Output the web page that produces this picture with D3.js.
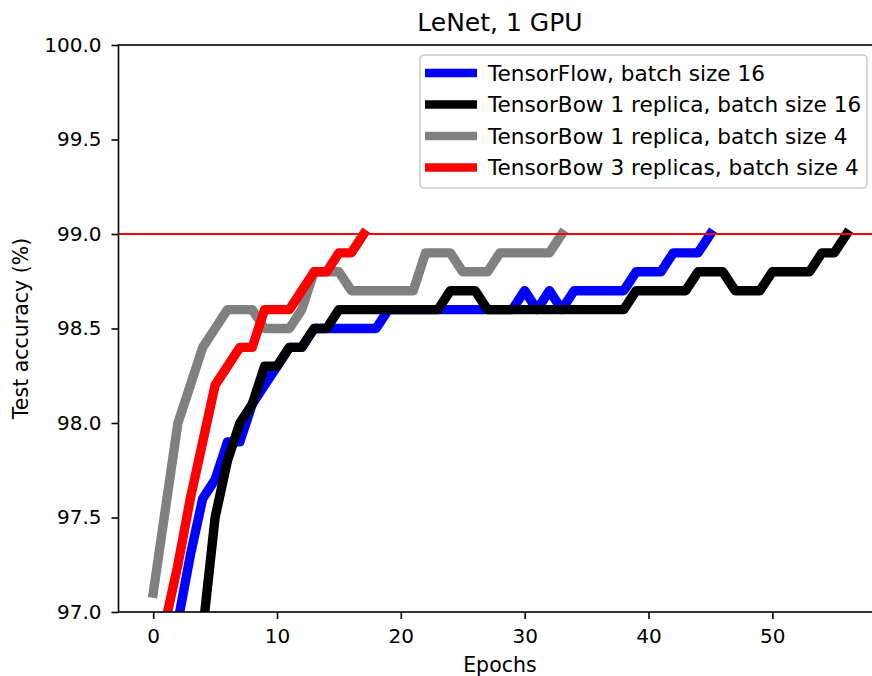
<!DOCTYPE html>
<html>
<head>
<meta charset="utf-8">
<script src="https://cdn.jsdelivr.net/npm/d3@7"></script>
<style>
  body { margin: 0; background: #fff; }
  text { font-family: "DejaVu Sans", sans-serif; fill: #000; }
</style>
</head>
<body>
<div id="chart-container"></div>
<script>
// Test accuracy per epoch
const tfBatch16 = [96.95, 97.3, 97.6, 97.7, 97.9, 97.9, 98.1, 98.2, 98.3, 98.4, 98.4,
    98.5, 98.5, 98.5, 98.5, 98.5, 98.5, 98.6, 98.6, 98.6, 98.6, 98.6, 98.6, 98.6, 98.6,
    98.6, 98.6, 98.6, 98.7, 98.6, 98.7, 98.6, 98.7, 98.7, 98.7, 98.7, 98.7, 98.8, 98.8,
    98.8, 98.9, 98.9, 98.9, 99.0];
const tfBatch16Start = 2;

const tb1Batch16 = [96.9, 97.5, 97.8, 98.0, 98.1, 98.3, 98.3, 98.4, 98.4, 98.5, 98.5,
    98.6, 98.6, 98.6, 98.6, 98.6, 98.6, 98.6, 98.6, 98.6, 98.7, 98.7, 98.7, 98.6, 98.6,
    98.6, 98.6, 98.6, 98.6, 98.6, 98.6, 98.6, 98.6, 98.6, 98.6, 98.7, 98.7, 98.7, 98.7,
    98.7, 98.8, 98.8, 98.8, 98.7, 98.7, 98.7, 98.8, 98.8, 98.8, 98.8, 98.9, 98.9, 99.0];
const tb1Batch16Start = 4;

const tb1Batch4 = [97.1, 97.55, 98.0, 98.2, 98.4, 98.5, 98.6, 98.6, 98.6, 98.5, 98.5,
    98.5, 98.6, 98.8, 98.8, 98.8, 98.7, 98.7, 98.7, 98.7, 98.7, 98.7, 98.9, 98.9, 98.9,
    98.8, 98.8, 98.8, 98.9, 98.9, 98.9, 98.9, 98.9, 99.0];
const tb1Batch4Start = 0;

const tb3Batch4 = [96.95, 97.25, 97.6, 97.9, 98.2, 98.3, 98.4, 98.4, 98.6, 98.6, 98.6,
    98.7, 98.8, 98.8, 98.9, 98.9, 99.0];
const tb3Batch4Start = 1;

const seriesNames = ["TensorFlow, batch size 16", "TensorBow 1 replica, batch size 16",
    "TensorBow 1 replica, batch size 4", "TensorBow 3 replicas, batch size 4"];
const seriesColors = ["#0000ff", "#000000", "#808080", "#ff0000"];
const targetAccuracy = 99.0;

const xTicks = [0, 10, 20, 30, 40, 50];
const yTicks = [97.0, 97.5, 98.0, 98.5, 99.0, 99.5, 100.0];

const series = [
    {values: tfBatch16, start: tfBatch16Start},
    {values: tb1Batch16, start: tb1Batch16Start},
    {values: tb1Batch4, start: tb1Batch4Start},
    {values: tb3Batch4, start: tb3Batch4Start}
].map((s, i) => ({
    name: seriesNames[i],
    color: seriesColors[i],
    points: s.values.map((v, j) => ({epoch: s.start + j, acc: v}))
}));

const W = 872, H = 676;
// plot box edges (right edge falls just outside the picture, as in the reference)
const plotLeft = 118.5, plotRight = 881.3, plotTop = 45, plotBottom = 612;

const svg = d3.select("#chart-container").append("svg")
    .attr("width", W)
    .attr("height", H);

const x = d3.scaleLinear().domain([-2.8, 58.8]).range([plotLeft, plotRight]);
const y = d3.scaleLinear().domain([97, 100]).range([plotBottom, plotTop]);

svg.append("clipPath").attr("id", "plot-clip")
    .append("rect")
    .attr("x", plotLeft).attr("y", plotTop)
    .attr("width", plotRight - plotLeft).attr("height", plotBottom - plotTop);

// lines
const line = d3.line().x(d => x(d.epoch)).y(d => y(d.acc));
const plot = svg.append("g").attr("clip-path", "url(#plot-clip)");

series.forEach(s => {
    plot.append("path")
        .datum(s.points)
        .attr("fill", "none")
        .attr("stroke", s.color)
        .attr("stroke-width", 9.4)
        .attr("stroke-linejoin", "round")
        .attr("stroke-linecap", "square")
        .attr("d", line);
});

// 99% target line
plot.append("line")
    .attr("x1", plotLeft).attr("x2", plotRight)
    .attr("y1", y(targetAccuracy)).attr("y2", y(targetAccuracy))
    .attr("stroke", "#ff0000")
    .attr("stroke-width", 2.1);

// axes
const xAxis = svg.append("g")
    .attr("transform", `translate(0, ${plotBottom})`)
    .call(d3.axisBottom(x).tickValues(xTicks).tickSize(7).tickPadding(10).tickSizeOuter(0));
const yAxis = svg.append("g")
    .attr("transform", `translate(${plotLeft}, 0)`)
    .call(d3.axisLeft(y).tickValues(yTicks).tickFormat(d3.format(".1f"))
        .tickSize(7).tickPadding(10).tickSizeOuter(0));

[xAxis, yAxis].forEach(a => {
    a.select(".domain").remove();
    a.selectAll(".tick line").attr("stroke", "#000").attr("stroke-width", 1.6);
    a.selectAll(".tick text")
        .attr("font-family", "DejaVu Sans")
        .attr("font-size", 20)
        .attr("fill", "#000");
});

// frame
svg.append("rect")
    .attr("x", plotLeft).attr("y", plotTop)
    .attr("width", plotRight - plotLeft).attr("height", plotBottom - plotTop)
    .attr("fill", "none")
    .attr("stroke", "#000")
    .attr("stroke-width", 1.6);

// title and labels
svg.append("text")
    .attr("x", (plotLeft + plotRight) / 2)
    .attr("y", 31)
    .attr("text-anchor", "middle")
    .attr("font-size", 25)
    .text("LeNet, 1 GPU");

svg.append("text")
    .attr("x", (plotLeft + plotRight) / 2)
    .attr("y", 672)
    .attr("text-anchor", "middle")
    .attr("font-size", 20.5)
    .text("Epochs");

svg.append("text")
    .attr("transform", `translate(28, ${(plotTop + plotBottom) / 2}) rotate(-90)`)
    .attr("text-anchor", "middle")
    .attr("font-size", 20.5)
    .text("Test accuracy (%)");

// legend
const legend = svg.append("g").attr("transform", "translate(420, 55)");
legend.append("rect")
    .attr("width", 447)
    .attr("height", 133)
    .attr("rx", 4)
    .attr("fill", "#fff")
    .attr("fill-opacity", 0.8)
    .attr("stroke", "#cccccc")
    .attr("stroke-width", 1.6);

series.forEach((s, i) => {
    const cy = 18 + i * 31.5;
    legend.append("line")
        .attr("x1", 5).attr("x2", 57)
        .attr("y1", cy).attr("y2", cy)
        .attr("stroke", s.color)
        .attr("stroke-width", 8.5);
    legend.append("text")
        .attr("x", 68)
        .attr("y", cy)
        .attr("dy", "0.36em")
        .attr("font-size", 21.6)
        .text(s.name);
});
</script>
</body>
</html>
